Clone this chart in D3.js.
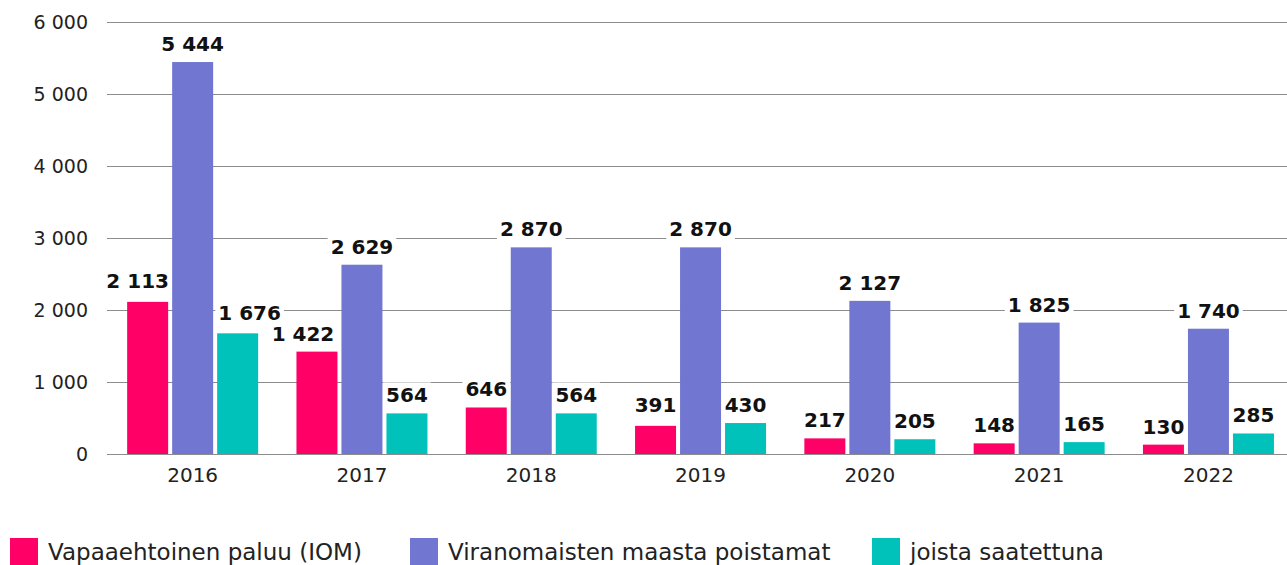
<!DOCTYPE html>
<html>
<head>
<meta charset="utf-8">
<script src="https://cdn.jsdelivr.net/npm/d3@7"></script>
<style>
  html, body { margin: 0; padding: 0; background: #fff; }
  svg { display: block; font-family: "DejaVu Sans", sans-serif; }
</style>
</head>
<body>
<div id="chart"></div>
<script>
// Three series per year, value labels on white chips that cut the gridlines.
const years = ['2016', '2017', '2018', '2019', '2020', '2021', '2022'];
const seriesNames = ['Vapaaehtoinen paluu (IOM)', 'Viranomaisten maasta poistamat', 'joista saatettuna'];
const iom = [2113, 1422, 646, 391, 217, 148, 130];
const poistamat = [5444, 2629, 2870, 2870, 2127, 1825, 1740];
const saatettuna = [1676, 564, 564, 430, 205, 165, 285];
const yTicks = [0, 1000, 2000, 3000, 4000, 5000, 6000];
const colors = ['#ff0066', '#7177d1', '#00c2bb'];

const W = 1287, H = 565;
const margin = { top: 22, bottom: 111, left: 107 };
const gridW = W - margin.left;
const innerH = H - margin.top - margin.bottom;
const bandW = 169.3; // plot area runs a little past the right edge of the picture

const svg = d3.select('#chart').append('svg').attr('width', W).attr('height', H);
const g = svg.append('g').attr('transform', `translate(${margin.left},${margin.top})`);

const x = d3.scaleBand().domain(years).range([1, 1 + bandW * years.length]);
const y = d3.scaleLinear().domain([0, 6000]).range([innerH, 0]);
const barW = 41, gap = 4;
const groupW = 3 * barW + 2 * gap;

// gridlines
g.append('g').selectAll('line').data(yTicks).join('line')
  .attr('x1', 0).attr('x2', gridW)
  .attr('y1', (d) => Math.round(y(d)) + 0.5).attr('y2', (d) => Math.round(y(d)) + 0.5)
  .style('stroke', '#8c8c8c').attr('stroke-width', 1);

// y tick labels
g.append('g').selectAll('text').data(yTicks).join('text')
  .attr('x', -19).attr('y', (d) => y(d)).attr('dy', '0.36em')
  .attr('text-anchor', 'end')
  .style('fill', '#222').style('font-size', '19px')
  .text((d) => d3.format(',')(d).replace(/,/g, ' '));

// x labels
g.append('g').selectAll('text').data(years).join('text')
  .attr('x', (d) => x(d) + x.bandwidth() / 2).attr('y', innerH + 14).attr('dy', '0.71em')
  .attr('text-anchor', 'middle')
  .style('fill', '#222').style('font-size', '20px')
  .text((d) => d);

const rows = [];
[iom, poistamat, saatettuna].forEach((vals, s) => {
  vals.forEach((v, i) => rows.push({ s, year: years[i], v }));
});
const barX = (d) => x(d.year) + (x.bandwidth() - groupW) / 2 + d.s * (barW + gap);

g.append('g').selectAll('rect').data(rows).join('rect')
  .attr('x', barX).attr('width', barW)
  .attr('y', (d) => y(d.v)).attr('height', (d) => innerH - y(d.v))
  .style('fill', (d) => colors[d.s]);

// value labels (a few nudged, as in the original)
const nudge = { '0-2016': [-10, -3], '2-2016': [12, -2], '0-2017': [-14, 0], '0-2019': [0, -3] };
const labels = g.append('g').selectAll('g').data(rows).join('g');
labels.append('text')
  .attr('x', (d) => barX(d) + barW / 2 + (nudge[`${d.s}-${d.year}`] || [0, 0])[0])
  .attr('y', (d) => y(d.v) - 11 + (nudge[`${d.s}-${d.year}`] || [0, 0])[1])
  .attr('text-anchor', 'middle')
  .style('fill', '#111').style('font-size', '20px').style('font-weight', 700)
  .text((d) => d3.format(',')(d.v).replace(/,/g, ' '));
labels.each(function () {
  const t = d3.select(this).select('text');
  const b = t.node().getBBox();
  d3.select(this).insert('rect', 'text')
    .attr('x', b.x - 3).attr('y', b.y - 1).attr('width', b.width + 6).attr('height', b.height + 2)
    .style('fill', '#fff');
});

// legend
const legendX = [10, 410, 872];
const leg = svg.append('g').selectAll('g').data(seriesNames).join('g')
  .attr('transform', (d, i) => `translate(${legendX[i]},538)`);
leg.append('rect').attr('width', 28).attr('height', 28).style('fill', (d, i) => colors[i]);
leg.append('text').attr('x', 38).attr('y', 22)
  .style('fill', '#222').style('font-size', '23px')
  .text((d) => d);
</script>
</body>
</html>
